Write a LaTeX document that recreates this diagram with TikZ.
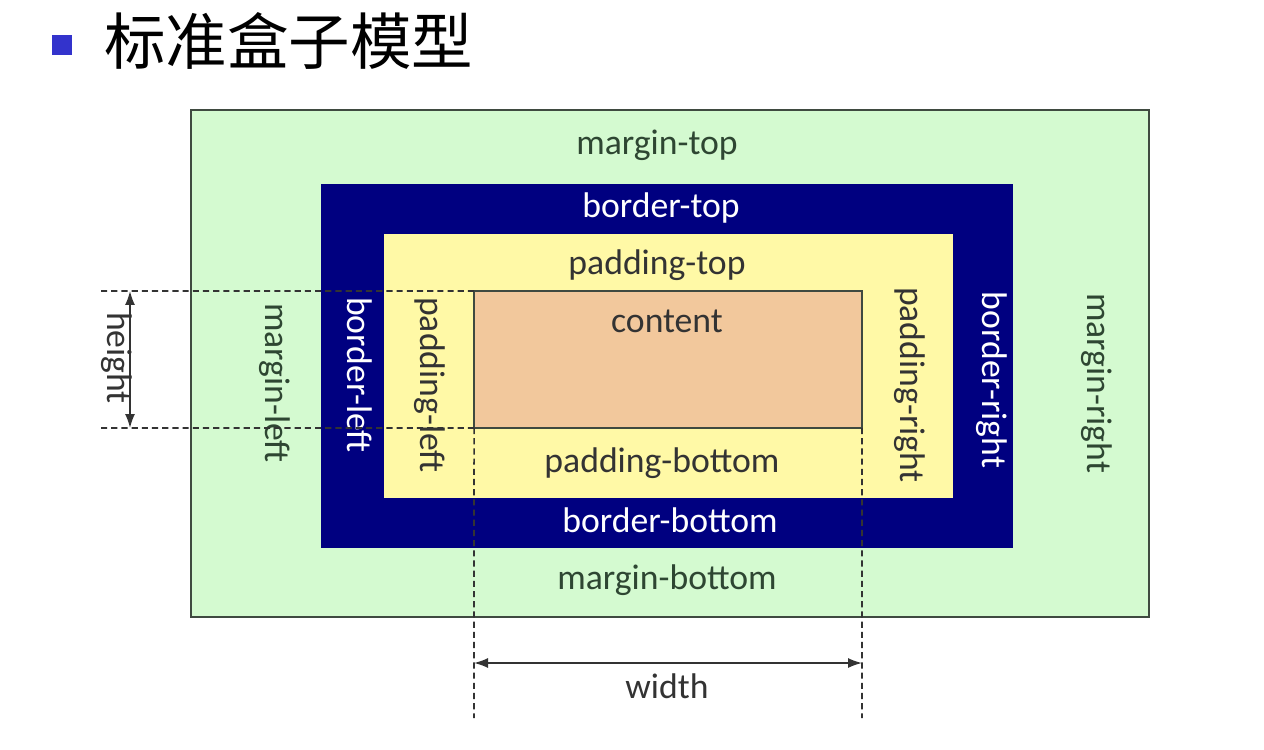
\documentclass[tikz,border=0pt]{standalone}
\usepackage{fontspec}
\setmainfont{Carlito}
\newfontfamily\cjk{Noto Sans CJK SC}
\usetikzlibrary{arrows.meta,positioning,calc}
\definecolor{MarginFill}{HTML}{D4FAD0}
\definecolor{BorderFill}{HTML}{000080}
\definecolor{PadFill}{HTML}{FFF9A6}
\definecolor{ContentFill}{HTML}{F2C89C}
\definecolor{Edge}{HTML}{3F4A40}
\definecolor{GreenInk}{HTML}{2E4632}
\definecolor{Ink}{HTML}{333333}
\definecolor{Bullet}{HTML}{3333CC}
\tikzset{layer/.style={draw=Edge,line width=.8pt,inner sep=0pt,outer sep=0pt},
lab/.style={font=\fontsize{20.3}{22}\selectfont,text=Ink,inner sep=0pt},
vlab/.style={lab,rotate=-90},
guide/.style={dashed,dash pattern=on 3.5pt off 2.3pt,line width=.9pt,draw=Ink},
dim/.style={{Latex[length=2.8mm,width=2mm]}-{Latex[length=2.8mm,width=2mm]},line width=.9pt,draw=Ink}}

\begin{document}
\begin{tikzpicture}[x=0.02cm,y=-0.02cm]
\useasboundingbox (0,0) rectangle (1264,750);
% title
\fill[Bullet] (52,35) rectangle (72,55);
\node[anchor=west,inner sep=0pt,font=\cjk\fontsize{35}{37}\selectfont] (title) at (104,41) {标准盒子模型};
% nested boxes
\node[layer,fill=MarginFill,minimum width=19.16cm,minimum height=10.14cm] (margin) at (670,363.5) {};
\node[layer,draw=BorderFill,fill=BorderFill,minimum width=13.8cm,minimum height=7.24cm] (border) at (667,366) {};
\node[layer,draw=PadFill,fill=PadFill,minimum width=11.34cm,minimum height=5.24cm] (padding) at (668.5,366) {};
\node[layer,fill=ContentFill,minimum width=7.76cm,minimum height=2.74cm] (content) at (668,359.5) {};
% labels
\node[lab,text=GreenInk] (mtop) at (657,145) {margin-top};
\node[lab,text=white] (btop) at (661,208) {border-top};
\node[lab] (ptop) at (657,265) {padding-top};
\node[lab] (ctext) at (667,321) {content};
\node[lab] (pbot) at (662,463) {padding-bottom};
\node[lab,text=white] (bbot) at (670,520) {border-bottom};
\node[lab,text=GreenInk] (mbot) at (667,580) {margin-bottom};
\node[vlab,text=GreenInk] (mleft) at (275,383) {margin-left};
\node[vlab,text=white] (bleft) at (360,375) {border-left};
\node[vlab] (pleft) at (430,385) {padding-left};
\node[vlab] (pright) at (910,385) {padding-right};
\node[vlab,text=white] (bright) at (992,380) {border-right};
\node[vlab,text=GreenInk] (mright) at (1097,383) {margin-right};
% height
\coordinate (hTop) at (100,291);
\coordinate (hBot) at (100,428);
\draw[guide] (content.north west) -- (hTop);
\draw[guide] (content.south west) -- (hBot);
\coordinate (hA) at (130,291);
\coordinate (hB) at (130,428);
\draw[dim] (hA) -- (hB);
\node[vlab] (htext) at (117,358) {height};
% width
\coordinate (wLeft) at (474,718);
\coordinate (wRight) at (862,718);
\draw[guide] (content.south west) -- (wLeft);
\draw[guide] (content.south east) -- (wRight);
\coordinate (wA) at (474,663);
\coordinate (wB) at (862,663);
\draw[dim] (wA) -- (wB);
\node[lab] (wtext) at (667,686) {width};
\end{tikzpicture}
\end{document}
